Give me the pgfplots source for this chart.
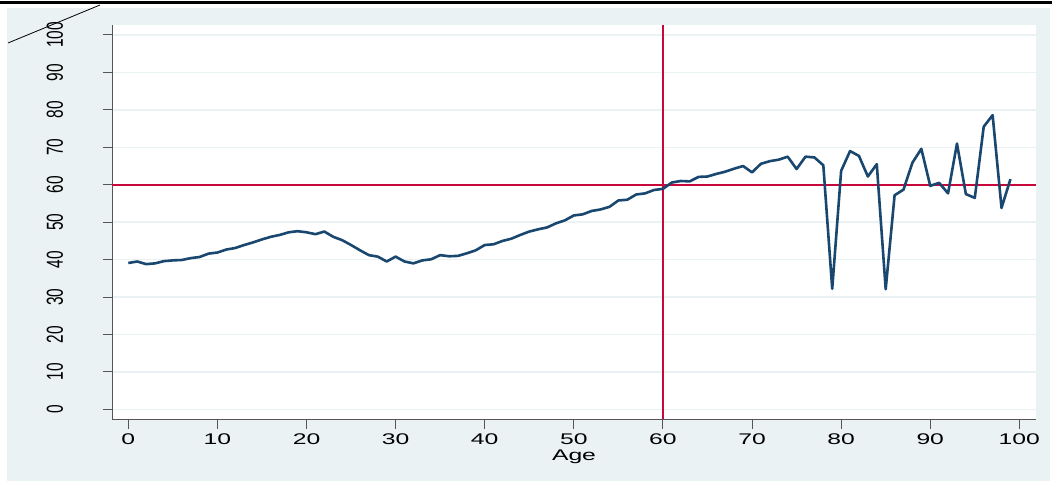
\documentclass[border=0pt]{standalone}
\usepackage{pgfplots}
\pgfplotsset{compat=1.18}
\usepackage{pgfplotstable}
\usepackage{fontspec}
\setmainfont{Liberation Sans}
\usepackage{graphicx}
\definecolor{stbg}{HTML}{EAF2F3}
\definecolor{stnavy}{HTML}{1A476F}
\definecolor{stred}{HTML}{C8073A}
\definecolor{staxis}{HTML}{555555}
\pgfplotstableread{
age val
0 39.1
1 39.5
2 38.8
3 39.0
4 39.6
5 39.8
6 39.9
7 40.4
8 40.7
9 41.6
10 41.9
11 42.7
12 43.1
13 43.9
14 44.6
15 45.4
16 46.1
17 46.6
18 47.3
19 47.6
20 47.3
21 46.8
22 47.5
23 46.1
24 45.2
25 43.9
26 42.5
27 41.2
28 40.8
29 39.5
30 40.8
31 39.5
32 39.0
33 39.8
34 40.1
35 41.2
36 40.9
37 41.0
38 41.7
39 42.5
40 43.9
41 44.1
42 45.0
43 45.6
44 46.6
45 47.5
46 48.1
47 48.6
48 49.7
49 50.5
50 51.8
51 52.1
52 53.0
53 53.4
54 54.1
55 55.8
56 56.0
57 57.4
58 57.7
59 58.6
60 58.9
61 60.6
62 61.0
63 60.9
64 62.1
65 62.2
66 62.9
67 63.5
68 64.3
69 65.0
70 63.3
71 65.6
72 66.3
73 66.7
74 67.5
75 64.2
76 67.5
77 67.3
78 65.2
79 32.2
80 63.7
81 69.0
82 67.7
83 62.2
84 65.5
85 32.1
86 57.2
87 58.7
88 65.9
89 69.6
90 59.7
91 60.5
92 57.7
93 71.0
94 57.5
95 56.5
96 75.5
97 78.6
98 53.8
99 61.5
}\datatable
\begin{document}
\begin{tikzpicture}
\path[use as bounding box] (0,0) rectangle (1052bp,481bp);
\fill[stbg] (7bp,0bp) rectangle (1050bp,473bp);
\fill[black] (0bp,477bp) rectangle (1052bp,480bp);
\draw[black, line width=0.8bp] (8bp,438bp) -- (100bp,476bp);
\begin{axis}[
  at={(112bp,61.5bp)}, anchor=south west,
  scale only axis, width=924bp, height=394.5bp,
  xmin=-1.83, xmax=101.87, ymin=-2.7, ymax=102.67,
  axis x line*=bottom, axis y line*=left,
  axis line style={staxis, line width=1bp, -},
  axis background/.style={fill=white},
  xtick={0,10,...,100}, ytick={0,10,...,100},
  tick align=outside, major tick length=9bp,
  tick style={staxis, line width=1bp},
  ymajorgrids, grid style={stbg, line width=1.5bp},
  /pgf/number format/assume math mode=true,
  every tick label/.append style={font=\fontsize{15.5}{18}\selectfont},
  xticklabel={\scalebox{1.6}[1]{\pgfmathprintnumber{\tick}}},
  yticklabel={\scalebox{1}[1.5]{\pgfmathprintnumber{\tick}}},
  xticklabel style={anchor=base}, xticklabel shift=16bp,
  yticklabel style={rotate=90, anchor=base}, yticklabel shift=40bp,
  xlabel={\scalebox{1.6}[1]{Age}},
  xlabel style={font=\fontsize{15.5}{18}\selectfont, at={(axis description cs:0.5,0)}, anchor=base, yshift=-41bp},
]
\addplot[stred, line width=1.5bp, forget plot] coordinates {(-1.83,60) (101.87,60)};
\addplot[stred, line width=2bp, forget plot] coordinates {(60,-2.7) (60,102.67)};
\addplot[stnavy, line width=2.6bp, line join=round, mark=none] table[x=age, y=val] {\datatable};
\end{axis}
\end{tikzpicture}
\end{document}
